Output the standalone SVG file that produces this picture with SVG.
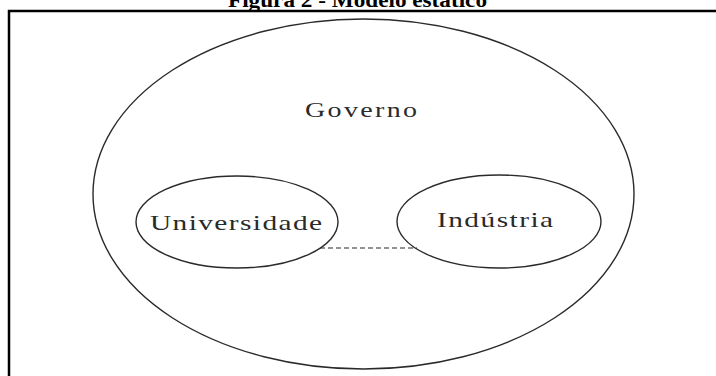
<svg xmlns="http://www.w3.org/2000/svg" width="716" height="376" viewBox="0 0 716 376">
<style>
.ell{fill:none;stroke:#2a2a2a;stroke-width:1.4}
.lbl{font-family:"Liberation Serif","Times New Roman",serif;font-size:21px;fill:#2a2a2a}
.title{font-family:"Liberation Serif","Times New Roman",serif;font-size:22px;font-weight:bold;fill:#000}
.frame{stroke:#000;stroke-width:2.5;fill:none}
</style>
<rect width="716" height="376" fill="#fff"/>
<text class="title" x="228" y="6.5" textLength="259" lengthAdjust="spacingAndGlyphs">Figura 2 - Modelo estático</text>
<path class="frame" d="M9,376 V11 H716"/>
<g id="governo">
<ellipse class="ell" cx="363.5" cy="194" rx="270.5" ry="175"/>
<text class="lbl" transform="translate(305,117) scale(1.4,1)" x="0" y="0" style="font-size:20px" textLength="80" lengthAdjust="spacing">Governo</text>
</g>
<g id="universidade">
<ellipse class="ell" cx="237" cy="222" rx="101" ry="46"/>
<text class="lbl" transform="translate(150,229.5) scale(1.4,1)" x="0" y="0" textLength="122.9" lengthAdjust="spacing">Universidade</text>
</g>
<g id="industria">
<ellipse class="ell" cx="499" cy="221.5" rx="102" ry="46.5"/>
<text class="lbl" transform="translate(437,227) scale(1.4,1)" x="0" y="0" textLength="82.9" lengthAdjust="spacing">Indústria</text>
</g>
<g id="connectors">
<line x1="320" y1="248" x2="417" y2="248" stroke="#2a2a2a" stroke-width="1.2" stroke-dasharray="5,3"/>
</g>
</svg>
